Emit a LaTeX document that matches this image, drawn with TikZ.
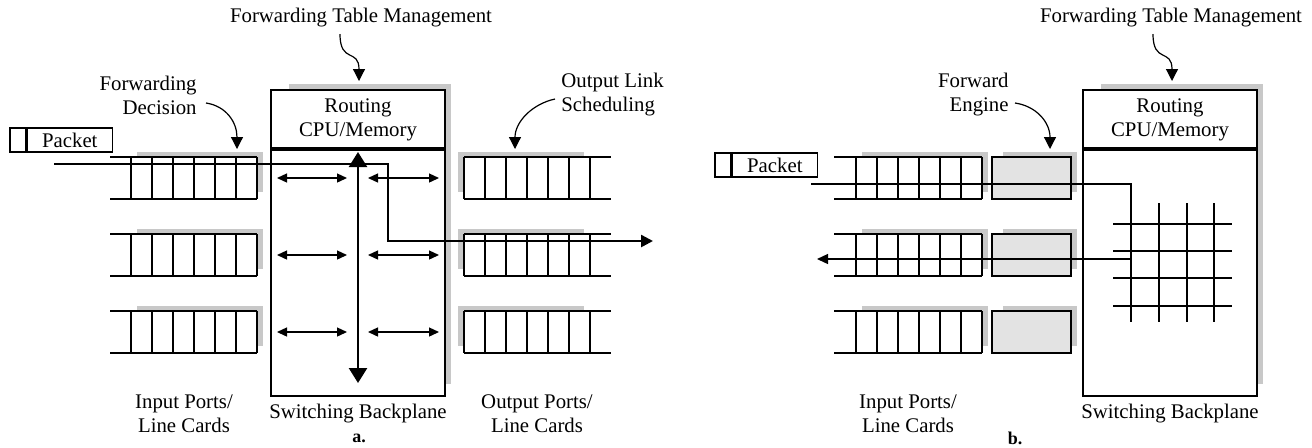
\documentclass[tikz,border=0pt]{standalone}
\usepackage{fontspec}
\setmainfont{Liberation Serif}
\usepackage{xcolor}
\usetikzlibrary{arrows.meta,positioning}
\definecolor{shadeGray}{RGB}{200,200,200}
\definecolor{engineGray}{RGB}{227,227,227}

\begin{document}
\begin{tikzpicture}[
  x=0.5pt, y=-0.5pt,
  every node/.style={font=\fontsize{10.4}{12}\selectfont, inner sep=0pt},
  cell/.style={line width=0.65pt},
  backdrop/.style={fill=shadeGray},
  rbox/.style={
    draw,
    fill=white,
    line width=1.15pt,
    minimum width=87pt,
    minimum height=153pt
  },
  bar/.style={line width=1.7pt},
  pcell/.style={draw, line width=0.65pt, minimum height=12pt},
  engine/.style={
    draw,
    fill=engineGray,
    line width=0.65pt,
    minimum width=39.5pt,
    minimum height=21pt
  },
  pointer/.style={line width=0.6pt, -{Triangle[length=6pt,width=6pt]}},
  duplex/.style={line width=0.65pt,
    {Triangle[length=5pt,width=4.5pt]}-{Triangle[length=5pt,width=4.5pt]}},
  bus/.style={line width=1.25pt,
    {Triangle[length=7.5pt,width=9pt]}-{Triangle[length=7.5pt,width=9pt]}},
  flow/.style={line width=1.25pt, -{Triangle[length=6pt,width=6pt]}},
  caption/.style={font=\fontsize{9}{10}\selectfont\bfseries}
]
  \useasboundingbox (0,0) rectangle (1312,447);

  % a. shared backplane
  \fill[backdrop] (289,84) rectangle (451,384);
  \node[rbox] (swa) at (358,243) {};
  \draw[bar] (271,149) -- (445,149);
  \node[align=center] (cpua) at (358,120) {Routing\\CPU/Memory};

  \foreach \r [evaluate=\r as \t using 157+77*\r] in {0,1,2}{
    \fill[backdrop] (137,\t-5) rectangle (263,\t+35);
    \fill[white] (131,\t) rectangle (257,\t+42);
    \draw[cell] (110,\t) -- (257,\t) (110,\t+42) -- (257,\t+42);
    \foreach \k in {0,...,6} \draw[cell] (131+21*\k,\t) -- ++(0,42);
    \fill[backdrop] (458,\t-5) rectangle (584,\t+35);
    \fill[white] (464,\t) rectangle (590,\t+42);
    \draw[cell] (464,\t) -- (611,\t) (464,\t+42) -- (611,\t+42);
    \foreach \k in {0,...,6} \draw[cell] (464+21*\k,\t) -- ++(0,42);
    \coordinate (dl\r) at (277,\t+21);
    \coordinate (dm\r) at (347,\t+21);
    \coordinate (dn\r) at (368,\t+21);
    \coordinate (dr\r) at (439,\t+21);
    \draw[duplex] (dl\r) -- (dm\r);
    \draw[duplex] (dn\r) -- (dr\r);
  }
  \coordinate (bta) at (358,152);
  \coordinate (bba) at (358,383);
  \draw[bus] (bta) -- (bba);

  \node[pcell, minimum width=8pt] (pcella) at (18,140) {};
  \node[pcell, minimum width=42.5pt, right=0pt of pcella] (pkta) {Packet};
  \coordinate (ina) at (54,164);
  \coordinate (turna) at (388,241);
  \coordinate (outa) at (653,241);
  \draw[flow] (ina) -| (turna) -- (outa);

  \node (ftma) at (361,18) {Forwarding Table Management};
  \coordinate (ftmas) at (340,34);
  \coordinate (ftmat) at (359,81);
  \draw[pointer] (ftmas) .. controls (340,64) and (359,48) .. (ftmat);
  \node[align=right, anchor=east] (fda) at (197,95) {Forwarding\\Decision};
  \coordinate (fdas) at (206,103);
  \coordinate (fdat) at (237,149);
  \draw[pointer] (fdas) .. controls (226,106) and (237,122) .. (fdat);
  \node[align=left, anchor=west] (olsa) at (561,95) {Output Link\\Scheduling};
  \coordinate (olsas) at (555,99);
  \coordinate (olsat) at (515,149);
  \draw[pointer] (olsas) .. controls (532,104) and (515,122) .. (olsat);

  \node[align=center] (inpa) at (184,414) {Input Ports/\\Line Cards};
  \node (swla) at (358,414) {Switching Backplane};
  \node[align=center] (outpa) at (537,414) {Output Ports/\\Line Cards};
  \node[caption] (capa) at (359,438) {a.};

  % b. crossbar
  \fill[backdrop] (1101,84) rectangle (1263,384);
  \node[rbox] (swb) at (1170,243) {};
  \draw[bar] (1083,149) -- (1257,149);
  \node[align=center] (cpub) at (1170,120) {Routing\\CPU/Memory};

  \foreach \r [evaluate=\r as \t using 157+77*\r] in {0,1,2}{
    \fill[backdrop] (862,\t-5) rectangle (988,\t+35);
    \fill[white] (856,\t) rectangle (982,\t+42);
    \draw[cell] (834,\t) -- (982,\t) (834,\t+42) -- (982,\t+42);
    \foreach \k in {0,...,6} \draw[cell] (856+21*\k,\t) -- ++(0,42);
    \fill[backdrop] (1003,\t-5) rectangle (1077,\t+35);
    \node[engine] (eng\r) at (1031.5,\t+21) {};
  }
  \foreach \gx in {1131,1159,1187,1214} \draw[cell] (\gx,203) -- (\gx,322);
  \foreach \gy in {224,251,278,306} \draw[cell] (1113,\gy) -- (1232,\gy);

  \node[pcell, minimum width=8pt] (pcellb) at (723,165) {};
  \node[pcell, minimum width=42.5pt, right=0pt of pcellb] (pktb) {Packet};
  \coordinate (inb) at (811,184);
  \coordinate (turnb) at (1131,259);
  \coordinate (outb) at (817,259);
  \draw[cell, -{Triangle[length=5.5pt,width=5pt]}] (inb) -| (turnb) -- (outb);

  \node (ftmb) at (1171,18) {Forwarding Table Management};
  \coordinate (ftmbs) at (1153,34);
  \coordinate (ftmbt) at (1172,81);
  \draw[pointer] (ftmbs) .. controls (1153,64) and (1172,48) .. (ftmbt);
  \node[align=right, anchor=east] (feb) at (1009,95) {Forward\\Engine};
  \coordinate (febs) at (1015,103);
  \coordinate (febt) at (1050,149);
  \draw[pointer] (febs) .. controls (1036,106) and (1050,122) .. (febt);

  \node[align=center] (inpb) at (908,414) {Input Ports/\\Line Cards};
  \node (swlb) at (1170,414) {Switching Backplane};
  \node[caption] (capb) at (1015,438) {b.};
\end{tikzpicture}
\end{document}
